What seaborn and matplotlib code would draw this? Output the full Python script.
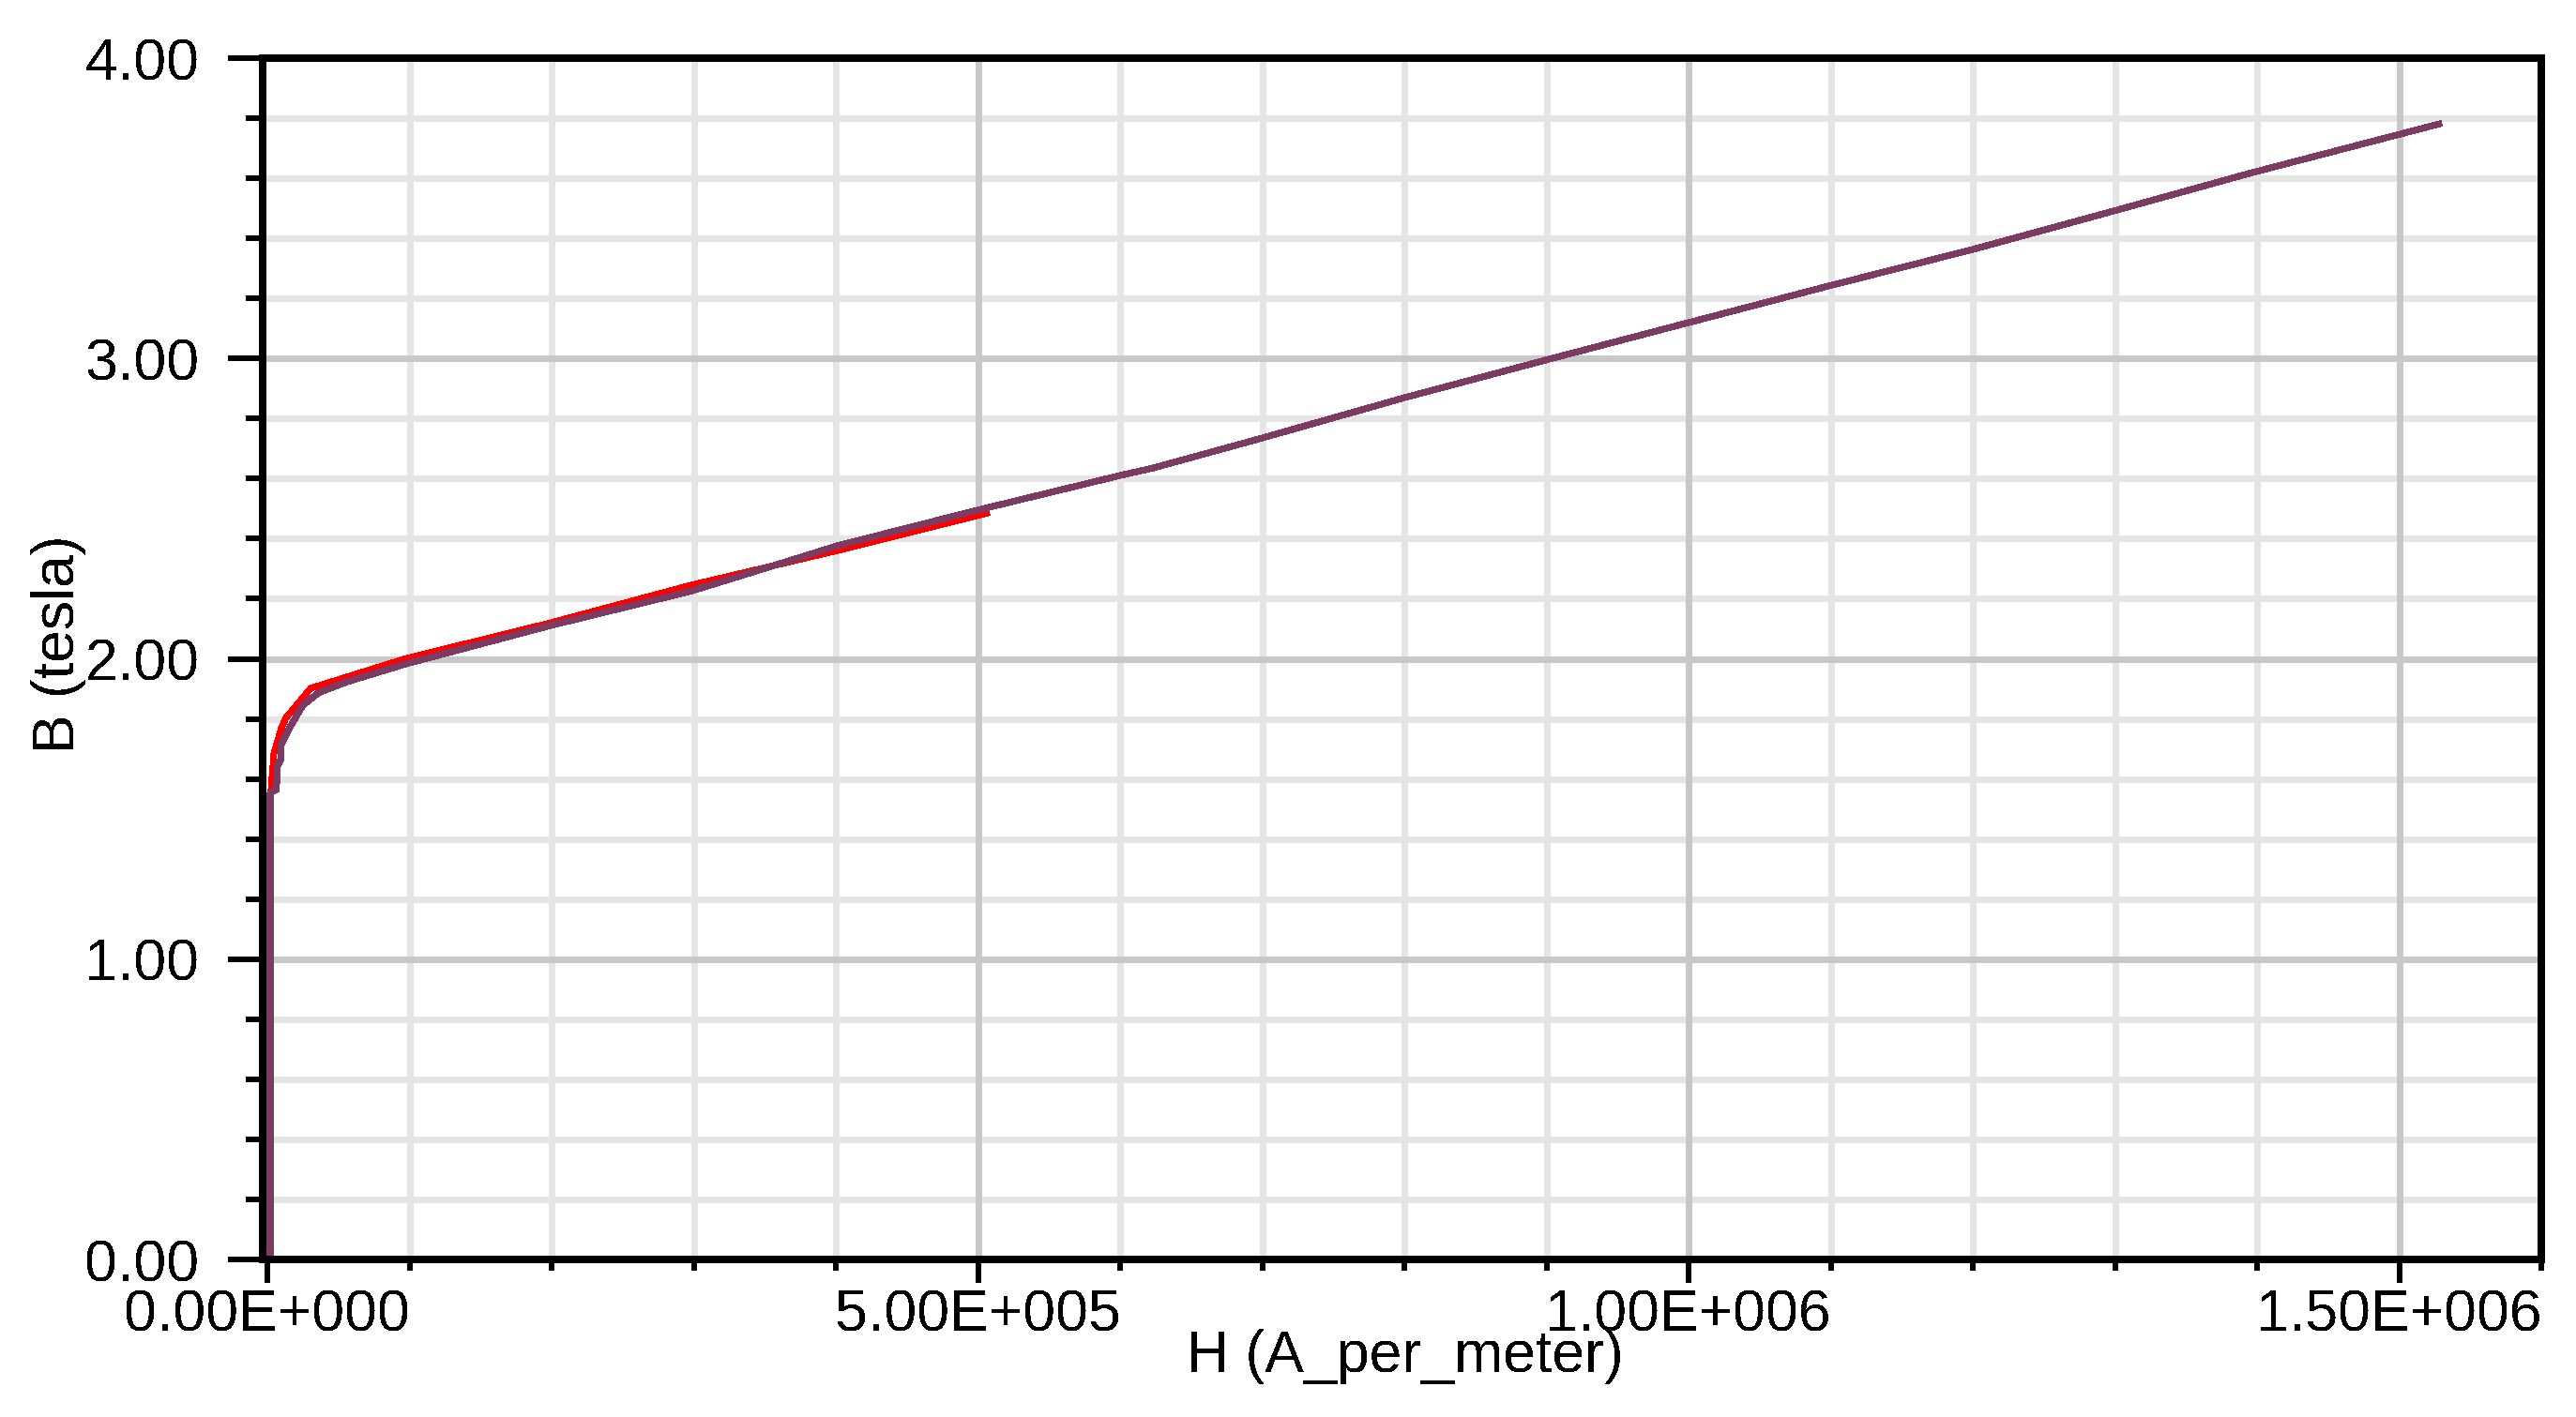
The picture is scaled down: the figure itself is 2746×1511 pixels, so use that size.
import numpy as np
import pandas as pd
import seaborn as sns
import matplotlib.pyplot as plt
from matplotlib.ticker import MultipleLocator, FuncFormatter

# B-H curve
purple_h = [2000, 2000, 6400, 7000, 9700, 9700, 15200, 25000, 36000, 55800, 97500,
            198600, 297900, 337000, 400700, 499600, 598700, 623000, 697600, 800500,
            898900, 998000, 1100700, 1199900, 1299000, 1395900, 1529900]
purple_b = [0.0, 1.554, 1.564, 1.642, 1.668, 1.715, 1.767, 1.845, 1.887, 1.923, 1.983,
            2.110, 2.225, 2.282, 2.376, 2.495, 2.609, 2.635, 2.732, 2.870,
            2.994, 3.117, 3.244, 3.363, 3.491, 3.618, 3.783]

red_h = [2000, 2000, 4600, 9700, 13000, 30500, 97500, 198600, 297900, 400700, 508000]
red_b = [0.0, 1.528, 1.684, 1.767, 1.803, 1.902, 2.001, 2.119, 2.245, 2.360, 2.487]

x_label = "H (A_per_meter)"
y_label = "B (tesla)"

sns.set_style("white")
plt.rcParams['font.family'] = ['Liberation Sans', 'DejaVu Sans']
plt.rcParams['text.color'] = 'black'
plt.rcParams['axes.labelcolor'] = 'black'
plt.rcParams['xtick.color'] = 'black'
plt.rcParams['ytick.color'] = 'black'
plt.rcParams['lines.antialiased'] = False
plt.rcParams['text.antialiased'] = False

df_red = pd.DataFrame({'H': red_h, 'B': red_b})
df_purple = pd.DataFrame({'H': purple_h, 'B': purple_b})

fig = plt.figure(figsize=(27.46, 15.11), dpi=100)
ax = fig.add_axes([0.10197, 0.11118, 0.88456, 0.84778])

sns.lineplot(data=df_red, x='H', y='B', ax=ax, sort=False, estimator=None,
             color='#FF0000', linewidth=4.3, solid_capstyle='butt', zorder=3,
             antialiased=False)
sns.lineplot(data=df_purple, x='H', y='B', ax=ax, sort=False, estimator=None,
             color='#7B3B62', linewidth=4.4, solid_capstyle='butt', zorder=4,
             antialiased=False)

ax.set_xlim(-3300, 1.6e6)
ax.set_ylim(0, 4)
ax.xaxis.set_major_locator(MultipleLocator(5e5))
ax.xaxis.set_minor_locator(MultipleLocator(1e5))
ax.yaxis.set_major_locator(MultipleLocator(1.0))
ax.yaxis.set_minor_locator(MultipleLocator(0.2))


def sci3(v, pos):
    if v == 0:
        return "0.00E+000"
    e = int(np.floor(np.log10(abs(v))))
    m = v / 10 ** e
    return f"{m:.2f}E{'+' if e >= 0 else '-'}{abs(e):03d}"


ax.xaxis.set_major_formatter(FuncFormatter(sci3))
ax.yaxis.set_major_formatter(FuncFormatter(lambda v, p: f"{v:.2f}"))

# grid drawn by hand so the darker major lines sit above the minor ones
ax.grid(False)
for v in ax.xaxis.get_minorticklocs():
    if 0 < v < 1.6e6:
        ax.axvline(v, color='#E5E5E5', lw=4.8, zorder=0.5, antialiased=False)
for v in ax.yaxis.get_minorticklocs():
    if 0 < v < 4:
        ax.axhline(v, color='#E5E5E5', lw=4.8, zorder=0.5, antialiased=False)
for v in ax.get_xticks():
    if 0 < v < 1.6e6:
        ax.axvline(v, color='#C8C8C8', lw=4.8, zorder=0.6, antialiased=False)
for v in ax.get_yticks():
    if 0 < v < 4:
        ax.axhline(v, color='#C8C8C8', lw=4.8, zorder=0.6, antialiased=False)

for s in ax.spines.values():
    s.set_visible(True)
    s.set_color('black')
    s.set_linewidth(4.6)
    s.set_zorder(5)
    s.set_antialiased(False)

ax.tick_params(axis='y', which='major', direction='out', length=26.6, width=4.3,
               pad=22, labelsize=45, colors='black', left=True)
ax.tick_params(axis='y', which='minor', direction='out', length=13, width=4.3, left=True)
ax.tick_params(axis='x', which='major', direction='out', length=18, width=4.3,
               pad=4, labelsize=45, colors='black', bottom=True)
ax.tick_params(axis='x', which='minor', direction='out', length=8.6, width=4.3, bottom=True)

ax.set_xlabel(x_label, fontsize=45, color='black')
ax.set_ylabel(y_label, fontsize=45, color='black')
ax.xaxis.set_label_coords(0.5015, -0.058)
ax.yaxis.set_label_coords(-0.0774, 0.5125)

fig.savefig('out.png', dpi=100)
